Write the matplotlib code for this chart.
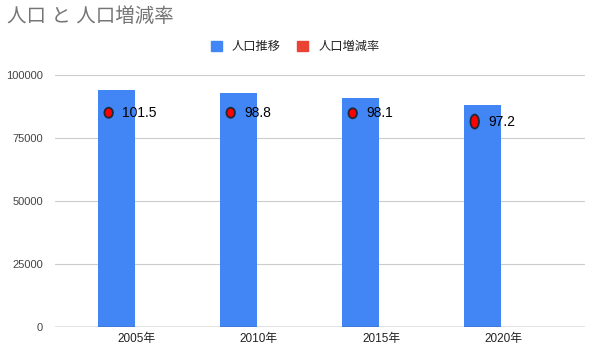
import numpy as np
import matplotlib
matplotlib.use('Agg')
import matplotlib.pyplot as plt
from matplotlib.patches import Patch, Ellipse

plt.rcParams['font.family'] = ['Liberation Sans', 'Noto Sans CJK JP', 'DejaVu Sans']

# data
years = ['2005年', '2010年', '2015年', '2020年']
population = [94000, 92700, 90700, 88000]
rate = [101.5, 98.8, 98.1, 97.2]
# height (on the population axis) where each rate label sits
rate_label_y = [85000, 85000, 84800, 81500]

# styles
marker_h_px = [10, 10, 10, 14]

fig = plt.figure(figsize=(6.02, 3.52), dpi=100)
ax = fig.add_axes([55 / 602, 25.3 / 352, 530 / 602, 251.7 / 352])

x = np.arange(len(years))
bw = 0.303
ax.bar(x - 0.168, population, width=bw, color='#4285F4', zorder=2)

ax.set_xlim(-0.672, 3.672)
ax.set_ylim(0, 100000)
ax.set_yticks([0, 25000, 50000, 75000, 100000])
ax.set_xticks(x)
ax.set_xticklabels(years)
ax.yaxis.grid(True, color='#cccccc', linewidth=0.8, zorder=0)
ax.axhline(0, color='#333333', linewidth=0.9, zorder=3)
for s in ax.spines.values():
    s.set_visible(False)
ax.tick_params(axis='y', length=0, pad=8.5, labelsize=8, labelcolor='#444444')
ax.tick_params(axis='x', length=0, pad=4.5, labelsize=8.5, labelcolor='#222222')

# rate markers + labels
px_x = 122.0          # pixels per category unit
px_y = 251.7 / 100000  # pixels per population unit
for i in range(len(years)):
    cx = x[i] - 0.232
    e = Ellipse((cx, rate_label_y[i]), width=8.5 / px_x,
                height=marker_h_px[i] / px_y,
                facecolor='#ff0000', edgecolor='#1c2b3a', linewidth=1.3, zorder=4)
    ax.add_patch(e)
    ax.annotate(f'{rate[i]}', (cx, rate_label_y[i]), xytext=(9.5, 0),
                textcoords='offset points', ha='left', va='center',
                fontsize=10, color='#000000', zorder=5)

handles = [Patch(color='#4285F4', label='人口推移'),
           Patch(color='#EA4335', label='人口増減率')]
fig.legend(handles=handles, loc='center', bbox_to_anchor=(0.49, 1 - 47 / 352),
           ncol=2, frameon=False, fontsize=8.8, handlelength=0.95, handleheight=0.95,
           handletextpad=0.8, columnspacing=1.3, labelcolor='#222222')

fig.text(7 / 602, 1 - 17 / 352, '人口 と 人口増減率', fontsize=14, color='#757575',
         ha='left', va='center')

fig.savefig('out.png', dpi=100)
